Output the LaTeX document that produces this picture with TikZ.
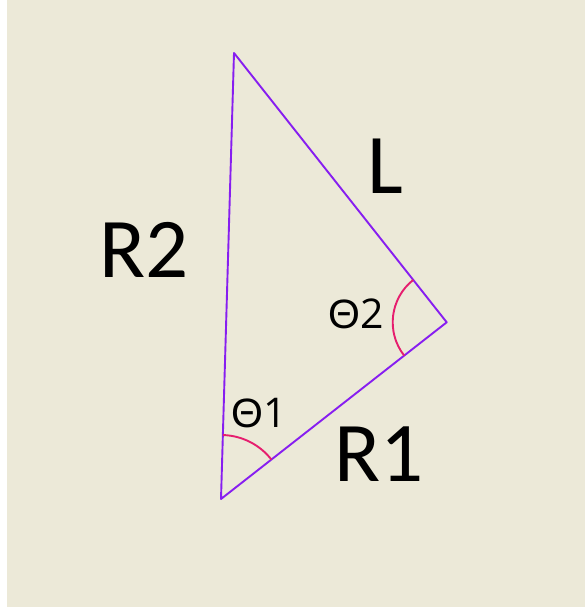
\documentclass[tikz,border=0pt]{standalone}
\usepackage{fontspec}
\setmainfont{Carlito}
\newfontfamily\thetafont{Liberation Sans}
\newfontfamily\digfont{Open Sans}
\definecolor{bgbeige}{RGB}{236,233,216}
\definecolor{edgeviolet}{RGB}{135,30,240}
\definecolor{arcpink}{RGB}{230,30,110}
\tikzset{
  edge/.style={draw=edgeviolet, line width=1.9pt, line join=round},
  anglearc/.style={draw=arcpink, line width=1.9pt},
  biglabel/.style={inner sep=0pt, font=\fontsize{85}{90}\selectfont},
  anglelabel/.style={inner sep=0pt, font=\fontsize{41}{45}\selectfont},
}
\begin{document}
\begin{tikzpicture}[x=1pt,y=1pt]
\useasboundingbox (0,0) rectangle (585,607);
\fill[white] (0,0) rectangle (585,607);
\fill[bgbeige] (7,0) rectangle (585,607);
\coordinate (A) at (234,554);
\coordinate (B) at (221,108);
\coordinate (C) at (446.7,284.7);
\draw[edge] (A) -- (B) -- (C) -- cycle;
\draw[anglearc] ([shift={(88.3:64)}]B) arc[start angle=88.3, end angle=38.1, radius=64];
\draw[anglearc] ([shift={(128.3:54)}]C) arc[start angle=128.3, end angle=218.1, radius=54];
\node[biglabel] (r2) at (144,357.5) {R2};
\node[biglabel] (l) at (385,440.5) {L};
\node[biglabel] (r1) at (379,153) {R1};
\node[anglelabel] (t2) at (356,293) {{\thetafont Θ}{\digfont 2}};
\node[anglelabel] (t1) at (259,194) {{\thetafont Θ}{\digfont 1}};
\end{tikzpicture}
\end{document}
